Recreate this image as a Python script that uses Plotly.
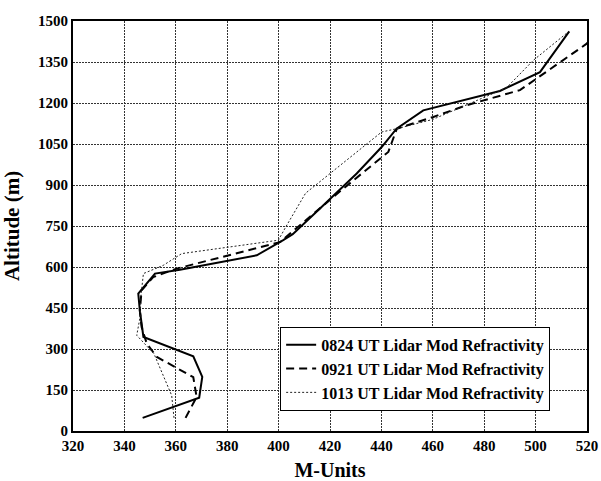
import plotly.graph_objects as go

m_0824 = [347.1, 369.1, 370.3, 366.8, 347.4, 346.0, 345.4, 348.7, 351.9, 361.6, 391.5, 401.8, 405.5, 416.1, 430.4, 440.1, 445.9, 456.3, 486.1, 501.7, 513.1]
a_0824 = [48, 122, 198, 273, 344, 441, 503, 539, 576, 590, 643, 698, 720, 814, 942, 1039, 1106, 1173, 1244, 1313, 1462]

m_0921 = [363.8, 368.1, 366.8, 352.6, 348.7, 346.7, 346.0, 346.7, 351.2, 360.3, 400.5, 425.2, 442.7, 446.0, 460.2, 473.2, 493.9, 519.9, 523.8]
a_0921 = [48, 124, 197, 271, 320, 380, 440, 515, 563, 594, 691, 887, 1021, 1106, 1149, 1192, 1247, 1417, 1460]

m_1013 = [359.3, 358.4, 351.5, 344.8, 346.1, 346.5, 347.4, 355.1, 362.3, 399.9, 403.0, 410.5, 440.1, 446.0, 460.0, 488.7, 499.1, 512.7]
a_1013 = [48, 130, 283, 350, 417, 500, 576, 606, 649, 698, 750, 870, 1094, 1106, 1140, 1256, 1356, 1460]

names = ["0824 UT Lidar Mod Refractivity", "0921 UT Lidar Mod Refractivity", "1013 UT Lidar Mod Refractivity"]

x_ticks = [320, 340, 360, 380, 400, 420, 440, 460, 480, 500, 520]
y_ticks = [0, 150, 300, 450, 600, 750, 900, 1050, 1200, 1350, 1500]

font = "Liberation Serif"

fig = go.Figure()
fig.add_trace(go.Scatter(x=m_0824, y=a_0824, mode="lines", name="<b>" + names[0] + "</b>",
                         line=dict(color="black", width=2, dash="solid")))
fig.add_trace(go.Scatter(x=m_0921, y=a_0921, mode="lines", name="<b>" + names[1] + "</b>",
                         line=dict(color="black", width=2, dash="8px,5px")))
fig.add_trace(go.Scatter(x=m_1013, y=a_1013, mode="lines", name="<b>" + names[2] + "</b>",
                         line=dict(color="#222222", width=1, dash="2px,2px")))

fig.update_layout(
    width=601, height=481,
    margin=dict(l=73, r=14, t=21, b=50),
    paper_bgcolor="white", plot_bgcolor="white",
    font=dict(family=font, color="black", size=15),
    showlegend=True,
    legend=dict(x=0.403, y=0.254, xanchor="left", yanchor="top",
                bordercolor="black", borderwidth=1, bgcolor="white",
                font=dict(family=font, size=16, color="black"),
                tracegroupgap=0, itemwidth=30),
    xaxis=dict(range=[320, 520], tickvals=x_ticks, ticktext=["<b>%d</b>" % v for v in x_ticks],
               showgrid=True, gridcolor="#333333", griddash="2px,1px", gridwidth=1,
               showline=True, linecolor="black", linewidth=2, mirror=True,
               ticks="", zeroline=False, automargin=False,
               tickfont=dict(family=font, size=15, color="black"),
               title=dict(text="<b>M-Units</b>", font=dict(family=font, size=20, color="black"))),
    yaxis=dict(range=[0, 1500], tickvals=y_ticks, ticktext=["<b>%d</b>" % v for v in y_ticks],
               showgrid=True, gridcolor="#333333", griddash="2px,1px", gridwidth=1,
               showline=True, linecolor="black", linewidth=2, mirror=True,
               ticks="", zeroline=False, automargin=False,
               tickfont=dict(family=font, size=15, color="black"),
               title=dict(text="<b>Altitude (m)</b>", font=dict(family=font, size=21, color="black"))),
)

fig.write_html("out.html")
